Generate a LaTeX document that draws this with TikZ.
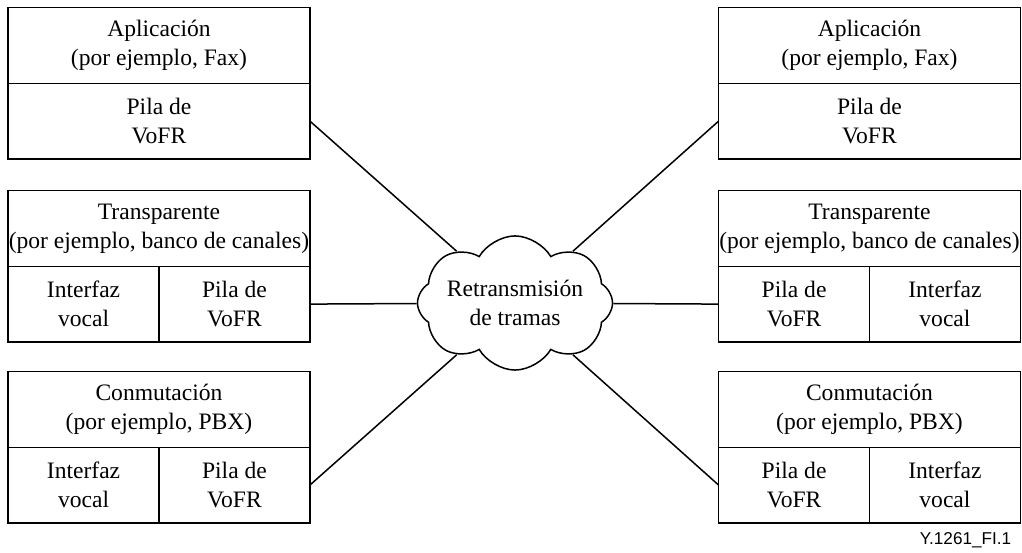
\documentclass[tikz,border=0pt]{standalone}
\usepackage{fontspec}
\setmainfont{Liberation Serif}
\newfontfamily\figfont{Liberation Sans}
\usetikzlibrary{positioning}
\usetikzlibrary{shapes.symbols}

\begin{document}
\begin{tikzpicture}[x=0.0164cm,y=-0.0164cm,line width=0.7pt,
  font=\fontsize{11}{13.4}\selectfont,
  top box/.style={draw,align=center,inner sep=0pt,outer sep=0pt,minimum width=4.95cm,minimum height=1.24cm},
  half box/.style={draw,align=center,inner sep=0pt,outer sep=0pt,minimum width=2.475cm,minimum height=1.24cm},
  net cloud/.style={cloud,draw,cloud puffs=8,cloud puff arc=120,cloud ignores aspect,
    shape border rotate=22.5,inner sep=0pt,minimum width=3.2cm,minimum height=2.2cm,align=center}]

  \useasboundingbox (0,0) rectangle (1022,553);

  % left terminals
  \node[top box] (appL) at (159,45.5) {Aplicación\\(por ejemplo, Fax)};
  \node[top box] (pilaL1) [below=0pt of appL] {Pila de\\VoFR};

  \node[top box] (transL) at (159,228.5) {Transparente\\(por ejemplo, banco de canales)};
  \node[half box] (vozL2) [below right=0pt and 0pt of transL.south west] {Interfaz\\vocal};
  \node[half box] (pilaL2) [right=0pt of vozL2] {Pila de\\VoFR};

  \node[top box] (pbxL) at (159,409.5) {Conmutación\\(por ejemplo, PBX)};
  \node[half box] (vozL3) [below right=0pt and 0pt of pbxL.south west] {Interfaz\\vocal};
  \node[half box] (pilaL3) [right=0pt of vozL3] {Pila de\\VoFR};

  % right terminals
  \node[top box] (appR) at (869.5,45.5) {Aplicación\\(por ejemplo, Fax)};
  \node[top box] (pilaR1) [below=0pt of appR] {Pila de\\VoFR};

  \node[top box] (transR) at (869.5,228.5) {Transparente\\(por ejemplo, banco de canales)};
  \node[half box] (pilaR2) [below right=0pt and 0pt of transR.south west] {Pila de\\VoFR};
  \node[half box] (vozR2) [right=0pt of pilaR2] {Interfaz\\vocal};

  \node[top box] (pbxR) at (869.5,409.5) {Conmutación\\(por ejemplo, PBX)};
  \node[half box] (pilaR3) [below right=0pt and 0pt of pbxR.south west] {Pila de\\VoFR};
  \node[half box] (vozR3) [right=0pt of pilaR3] {Interfaz\\vocal};

  % frame relay network
  \node[net cloud] (fr) at (515,303) {Retransmisión\\de tramas};

  \draw (pilaL1.east) -- (fr);
  \draw (pilaL2.east) -- (fr);
  \draw (pilaL3.east) -- (fr);
  \draw (pilaR1.west) -- (fr);
  \draw (pilaR2.west) -- (fr);
  \draw (pilaR3.west) -- (fr);

  \node[font=\figfont\fontsize{8}{9.6}\selectfont,anchor=east] (figid) at (1019,540) {Y.1261\_FI.1};
\end{tikzpicture}
\end{document}
